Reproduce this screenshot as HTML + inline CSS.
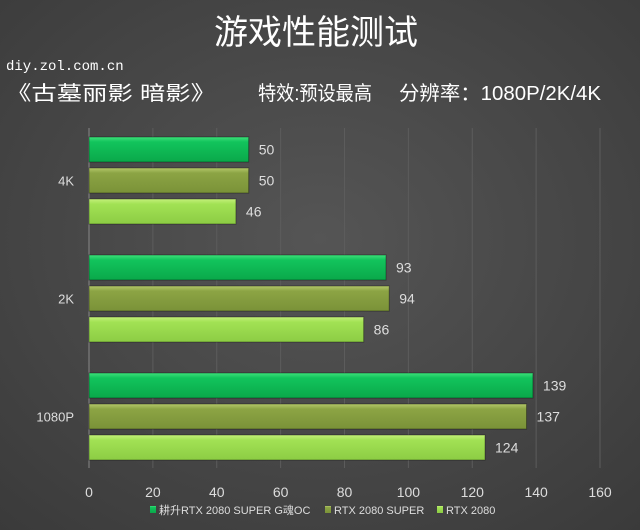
<!DOCTYPE html>
<html><head><meta charset="utf-8"><style>
body{margin:0;width:640px;height:530px;overflow:hidden;background:#474747;}
svg{display:block}
</style></head><body>
<svg id="c" width="640" height="530" xmlns="http://www.w3.org/2000/svg">
<defs>
<radialGradient id="bg" cx="50%" cy="45%" r="75%"><stop offset="0" stop-color="#555"/><stop offset="1" stop-color="#3a3a3a"/></radialGradient>
<linearGradient id="g0" x1="0" y1="0" x2="0" y2="1"><stop offset="0" stop-color="#3ee07a"/><stop offset="0.2" stop-color="#12c45c"/><stop offset="1" stop-color="#0aa84a"/></linearGradient>
<linearGradient id="g1" x1="0" y1="0" x2="0" y2="1"><stop offset="0" stop-color="#b4c86a"/><stop offset="0.2" stop-color="#8ca444"/><stop offset="1" stop-color="#7a9238"/></linearGradient>
<linearGradient id="g2" x1="0" y1="0" x2="0" y2="1"><stop offset="0" stop-color="#c4f07a"/><stop offset="0.2" stop-color="#a2e254"/><stop offset="1" stop-color="#8ccc44"/></linearGradient>
</defs>
<rect width="640" height="530" fill="url(#bg)"/>
<text x="316" y="44" text-anchor="middle" font-size="34" fill="#fff" font-family="'Liberation Sans','Noto Sans CJK SC',sans-serif">游戏性能测试</text>
<text x="6" y="70" font-size="14" fill="#fff" font-family="'Liberation Mono',monospace">diy.zol.com.cn</text>
<g font-size="20" fill="#fff" font-family="'Liberation Sans','Noto Sans CJK SC',sans-serif">
<text x="6" y="100" textLength="210" lengthAdjust="spacingAndGlyphs">《古墓丽影 暗影》</text>
<text x="258" y="100" textLength="114" lengthAdjust="spacingAndGlyphs">特效:预设最高</text>
<text x="399" y="100" textLength="202" lengthAdjust="spacingAndGlyphs">分辨率：1080P/2K/4K</text>
</g>
<g id="grid"></g><g id="bars"></g><g id="axes"></g><g id="legend"></g>
</svg>
<script>
const categories=["4K","2K","1080P"];
const series=["耕升RTX 2080 SUPER G魂OC","RTX 2080 SUPER","RTX 2080"];
const s0=[50,93,139];
const s1=[50,94,137];
const s2=[46,86,124];
const ticks=[0,20,40,60,80,100,120,140,160];
const vals=[s0,s1,s2];
const NS="http://www.w3.org/2000/svg";
const x0=89,x1=600,xmax=160;
const X=v=>x0+(x1-x0)*v/xmax;
const groupTop=[137,255,373],barH=25,barStep=31;
function mk(t,a,p){const e=document.createElementNS(NS,t);for(const k in a)e.setAttribute(k,a[k]);p.appendChild(e);return e;}
const grid=document.getElementById('grid'),bars=document.getElementById('bars'),axes=document.getElementById('axes'),leg=document.getElementById('legend');
ticks.forEach(t=>{
 const l=mk('line',{x1:X(t),x2:X(t),y1:128,y2:468,stroke:t===0?'#888':'#5c5c5c','stroke-width':1},grid);
 
 
 const tx=mk('text',{x:X(t),y:497,'text-anchor':'middle','font-size':14,fill:'#ddd','font-family':'Liberation Sans,sans-serif'},axes);
 tx.textContent=t;
 
 
});
categories.forEach((c,i)=>{
 const cy=groupTop[i]+barStep+barH/2;
 const t=mk('text',{x:74,y:cy+5,'text-anchor':'end','font-size':13,fill:'#ddd','font-family':'Liberation Sans,sans-serif'},axes);
 t.textContent=c;
 
 
 vals.forEach((s,j)=>{
  const y=groupTop[i]+j*barStep;
  const r=mk('rect',{x:X(0),y:y,width:X(s[i])-X(0),height:barH,fill:'url(#g'+j+')',stroke:'rgba(0,0,0,0.35)','stroke-width':1},bars);
  
  
  const v=mk('text',{x:X(s[i])+10,y:y+barH/2+5,'font-size':14,fill:'#ddd','font-family':'Liberation Sans,sans-serif'},bars);
  v.textContent=s[i];
  
  
 });
});
const lx=[150,325,437];
series.forEach((n,j)=>{
 const r=mk('rect',{x:lx[j],y:506,width:6,height:7,fill:'url(#g'+j+')'},leg);
 
 
 const t=mk('text',{x:lx[j]+9,y:514,'font-size':11,fill:'#ddd','font-family':"'Liberation Sans','Noto Sans CJK SC',sans-serif"},leg);
 t.textContent=n;
 
 
});
</script>
</body></html>
